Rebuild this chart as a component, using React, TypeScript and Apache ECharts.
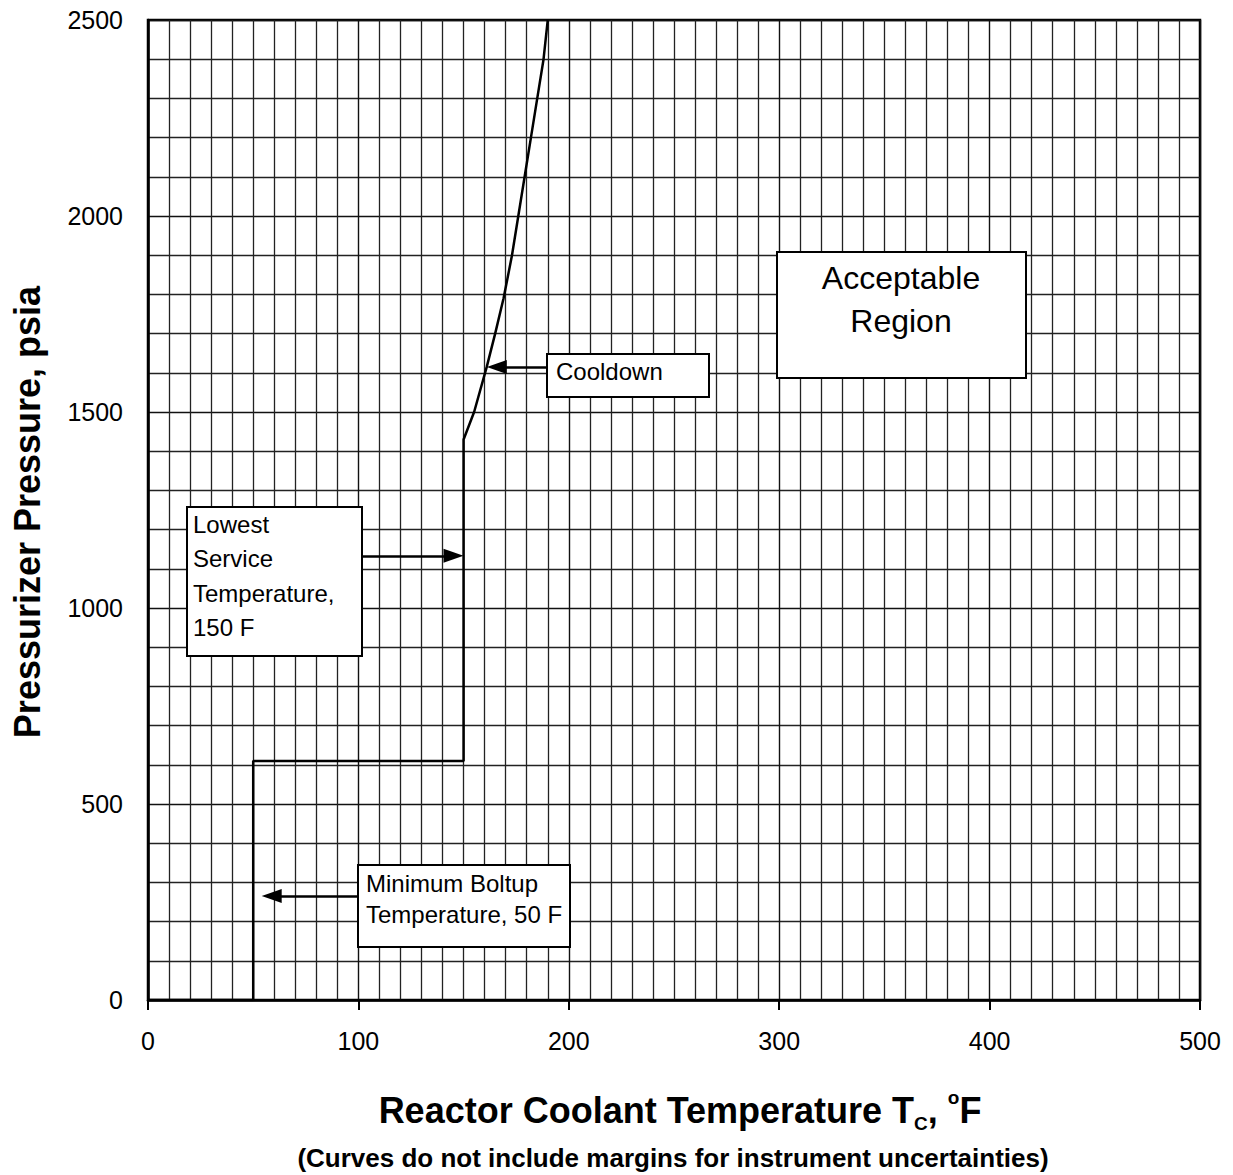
import React, { useEffect, useRef } from "react";
import * as echarts from "echarts";

const curveT = [0, 50, 50, 150, 150, 155, 161, 165, 169, 173, 176, 179, 182, 185, 188, 190];
const curveP = [0, 0, 610, 610, 1430, 1500, 1615, 1700, 1790, 1900, 2000, 2100, 2200, 2300, 2400, 2500];
// arrow ends: the triangle head is centred on "to", so its tip lies about 10px further on
const arrows = [
  { from: [189.6, 1615], to: [165.8, 1615] },
  { from: [101.6, 1133], to: [145.2, 1133] },
  { from: [99.8, 265], to: [58.8, 265] },
];
const xTicks = [0, 100, 200, 300, 400, 500];
const yTicks = [0, 500, 1000, 1500, 2000, 2500];

const FONT = "'Liberation Sans', Arial, sans-serif";

export default function App() {
  const ref = useRef<HTMLDivElement>(null);
  useEffect(() => {
    const chart = echarts.init(ref.current!, null, { renderer: "svg" });
    const grid = { left: 148, right: 33, top: 20, bottom: 175 };
    const box = (x: number, y: number, w: number, h: number) => ({
      type: "rect",
      shape: { x, y, width: w, height: h },
      style: { fill: "#fff", stroke: "#000", lineWidth: 2 },
      z: 10,
    });
    const txt = (x: number, y: number, t: string, size: number, align = "left") => ({
      type: "text",
      x,
      y,
      style: { text: t, font: `${size}px ${FONT}`, fill: "#000", align, verticalAlign: "middle" },
      z: 11,
    });
    chart.setOption({
      animation: false,
      backgroundColor: "#fff",
      grid: { ...grid, show: true, borderColor: "#000", borderWidth: 2.5, containLabel: false },
      xAxis: {
        type: "value",
        min: xTicks[0],
        max: xTicks[xTicks.length - 1],
        interval: 100,
        axisLine: { show: true, lineStyle: { color: "#000", width: 2.5 } },
        axisTick: { show: true, inside: false, length: 10, lineStyle: { color: "#000", width: 2 } },
        axisLabel: { fontSize: 25, color: "#000", fontFamily: FONT, margin: 28, formatter: (v: number) => String(v) },
        splitLine: { show: true, lineStyle: { color: "#111", width: 1.4 } },
        minorTick: { show: true, splitNumber: 10, length: 0 },
        minorSplitLine: { show: true, lineStyle: { color: "#222", width: 1.3 } },
      },
      yAxis: {
        type: "value",
        min: yTicks[0],
        max: yTicks[yTicks.length - 1],
        interval: 500,
        axisLine: { show: true, lineStyle: { color: "#000", width: 2.5 } },
        axisTick: { show: true, inside: false, length: 0 },
        axisLabel: { fontSize: 25, color: "#000", fontFamily: FONT, margin: 25, formatter: (v: number) => String(v) },
        splitLine: { show: true, lineStyle: { color: "#111", width: 1.4 } },
        minorTick: { show: true, splitNumber: 5, length: 0 },
        minorSplitLine: { show: true, lineStyle: { color: "#222", width: 1.3 } },
      },
      series: [
        {
          type: "line",
          data: curveT.map((t, i) => [t, curveP[i]]),
          showSymbol: false,
          symbol: "none",
          lineStyle: { color: "#000", width: 2.5 },
          z: 5,
          markLine: {
            silent: true,
            symbol: ["none", "triangle"],
            symbolSize: [14, 20],
            label: { show: false },
            lineStyle: { color: "#000", width: 2.5, type: "solid" },
            z: 12,
            data: arrows.map((a) => [{ coord: a.from }, { coord: a.to }]),
          },
        },
      ],
      graphic: [
        box(777, 252, 249, 126),
        txt(901, 278, "Acceptable", 32, "center"),
        txt(901, 321, "Region", 32, "center"),
        box(547, 354, 162, 43),
        txt(556, 371, "Cooldown", 24),
        box(187, 507, 175, 149),
        txt(193, 524, "Lowest", 24),
        txt(193, 558, "Service", 24),
        txt(193, 593, "Temperature,", 24),
        txt(193, 627, "150 F", 24),
        box(358, 865, 212, 82),
        txt(366, 883, "Minimum Boltup", 24),
        txt(366, 914, "Temperature, 50 F", 24),
        {
          type: "text",
          x: 680,
          y: 1108,
          style: {
            text: "{m|Reactor Coolant Temperature T}{s|C}{m|, }{o|o}{m|F}",
            align: "center",
            verticalAlign: "middle",
            fill: "#000",
            rich: {
              m: { fontFamily: FONT, fontWeight: "bold", fontSize: 36, fill: "#000", verticalAlign: "bottom", lineHeight: 40 },
              s: { fontFamily: FONT, fontWeight: "bold", fontSize: 19, fill: "#000", verticalAlign: "bottom", lineHeight: 40, padding: [0, 0, -5, 0] },
              o: { fontFamily: FONT, fontWeight: "bold", fontSize: 19, fill: "#000", verticalAlign: "top", lineHeight: 40 },
            },
          },
        },
        {
          type: "text",
          x: 673,
          y: 1158,
          style: {
            text: "(Curves do not include margins for instrument uncertainties)",
            font: `bold 26px ${FONT}`,
            fill: "#000",
            align: "center",
            verticalAlign: "middle",
          },
        },
        {
          type: "text",
          x: 27,
          y: 512,
          rotation: Math.PI / 2,
          style: {
            text: "Pressurizer Pressure, psia",
            font: `bold 36px ${FONT}`,
            fill: "#000",
            align: "center",
            verticalAlign: "middle",
          },
        },
      ],
    });
    return () => chart.dispose();
  }, []);
  return <div ref={ref} style={{ width: 1233, height: 1175, position: "absolute", left: 0, top: 0 }} />;
}
